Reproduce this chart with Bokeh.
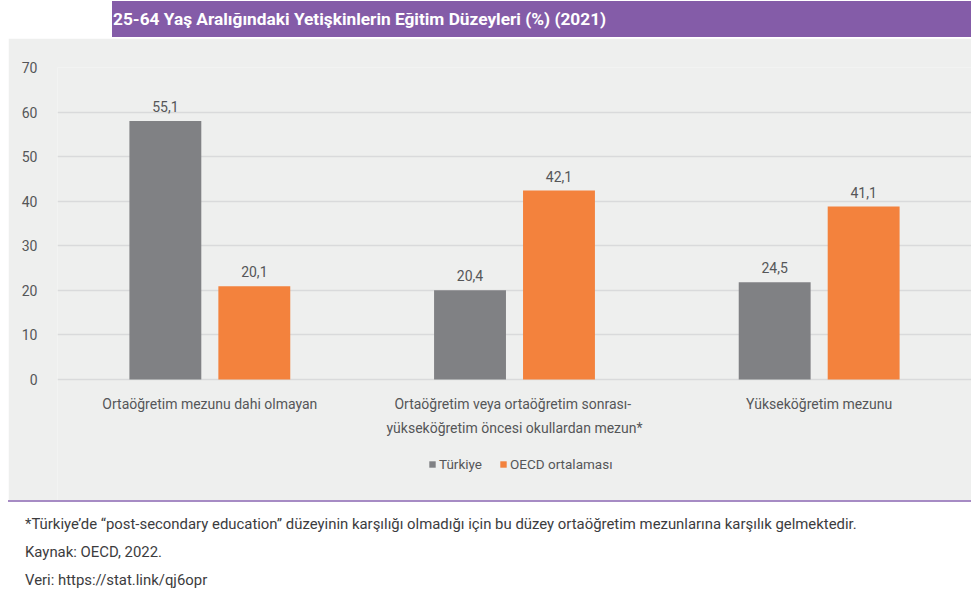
from bokeh.plotting import figure
from bokeh.models import (ColumnDataSource, FactorRange, Range1d, Legend, LegendItem,
                          FixedTicker, Div)
from bokeh.transform import dodge
from bokeh.layouts import column
from bokeh.embed import file_html
from bokeh.resources import INLINE

# ---------------- data ----------------
title_text = "25-64 Yaş Aralığındaki Yetişkinlerin Eğitim Düzeyleri (%) (2021)"
categories = [
    "Ortaöğretim mezunu dahi olmayan",
    "Ortaöğretim veya  ortaöğretim sonrası-\nyükseköğretim öncesi okullardan mezun*",
    "Yükseköğretim mezunu",
]
series_names = ["Türkiye", "OECD ortalaması"]
turkiye_bars = [58.0, 20.0, 21.8]      # bar heights as drawn
oecd_bars = [20.9, 42.4, 38.8]
turkiye_labels = ["55,1", "20,4", "24,5"]  # printed value labels
oecd_labels = ["20,1", "42,1", "41,1"]
y_ticks = [0, 10, 20, 30, 40, 50, 60, 70]
footnotes = [
    "*Türkiye’de “post-secondary education” düzeyinin karşılığı olmadığı için bu düzey ortaöğretim mezunlarına karşılık gelmektedir.",
    "Kaynak: OECD, 2022.",
    "Veri: https://stat.link/qj6opr",
]

# ---------------- styles ----------------
FONT = "Roboto"
PURPLE = "#845ca8"
LILAC = "#a68bc4"
PANEL = "#eeefee"
GRID = "#d9dadb"
GRAY_BAR = "#808184"
ORANGE = "#f3823d"
TEXT = "#555658"

# vertical layout of the chart panel (px inside the 462 px tall figure)
FIG_H = 462
FRAME_TOP = 29            # where the 70 gridline sits
ZERO_PX = 341             # where the 0 baseline sits
Y_MAX = 70
PX_PER_UNIT = (ZERO_PX - FRAME_TOP) / Y_MAX
Y_MIN = -(FIG_H - ZERO_PX) / PX_PER_UNIT   # extra room below 0 for labels and legend

# ---------------- title band ----------------
title_div = Div(
    text=(f'<div style="margin-left:112px;margin-top:1px;width:859px;height:36px;'
          f'background:{PURPLE};color:#ffffff;font-family:{FONT};font-weight:bold;'
          f'font-size:17.3px;line-height:36px;padding-left:1px;box-sizing:border-box;'
          f'white-space:nowrap;">{title_text}</div>'),
    width=971, height=38, margin=0)

# ---------------- main chart ----------------
src = ColumnDataSource(dict(cat=categories, tr=turkiye_bars, oe=oecd_bars,
                            trl=turkiye_labels, oel=oecd_labels))

p = figure(width=963, height=FIG_H, output_backend="svg", toolbar_location=None,
           x_range=FactorRange(*categories), y_range=Range1d(Y_MIN, Y_MAX),
           min_border_left=49, min_border_right=0, min_border_top=FRAME_TOP,
           min_border_bottom=0, margin=(0, 0, 0, 8))
p.background_fill_color = PANEL
p.border_fill_color = PANEL
p.outline_line_color = None

off = 0.146
bw = 0.236
r1 = p.vbar(x=dodge("cat", -off, range=p.x_range), top="tr", width=bw, source=src,
            fill_color=GRAY_BAR, line_color=None)
r2 = p.vbar(x=dodge("cat", off, range=p.x_range), top="oe", width=bw, source=src,
            fill_color=ORANGE, line_color=None)

p.text(x=dodge("cat", -off, range=p.x_range), y="tr", text="trl", source=src,
       text_align="center", text_baseline="bottom", y_offset=-9,
       text_font={"value": FONT}, text_font_size="14px", text_color=TEXT)
p.text(x=dodge("cat", off, range=p.x_range), y="oe", text="oel", source=src,
       text_align="center", text_baseline="bottom", y_offset=-9,
       text_font={"value": FONT}, text_font_size="14px", text_color=TEXT)

# category labels under the baseline
p.text(x="cat", y=0, text="cat", source=src, text_align="center", text_baseline="top",
       y_offset=16, text_line_height=1.5,
       text_font={"value": FONT}, text_font_size="14px", text_color=TEXT)

p.xaxis.visible = False
p.xgrid.grid_line_color = None
p.ygrid.grid_line_color = GRID
p.ygrid.grid_line_width = 1.5
p.yaxis.ticker = FixedTicker(ticks=y_ticks)
p.yaxis.axis_line_color = None
p.yaxis.major_tick_line_color = None
p.yaxis.minor_tick_line_color = None
p.yaxis.major_label_text_font = FONT
p.yaxis.major_label_text_color = TEXT
p.yaxis.major_label_text_font_size = "14px"
p.yaxis.major_label_standoff = 14

legend = Legend(items=[LegendItem(label=series_names[0], renderers=[r1]),
                       LegendItem(label=series_names[1], renderers=[r2])],
                orientation="horizontal", location=(371, 26),
                glyph_width=8, glyph_height=8, label_height=20, label_standoff=3, spacing=17,
                label_text_font=FONT, label_text_font_size="13.5px", label_text_color=TEXT,
                background_fill_alpha=0, border_line_color=None, margin=0, padding=0)
p.add_layout(legend)

# ---------------- footer ----------------
notes_html = "<br>".join(footnotes)
footer_div = Div(
    text=(f'<div style="margin-left:8px;width:963px;border-top:2px solid {LILAC};height:100px;'
          f'box-sizing:border-box;padding-top:8px;padding-left:17px;font-family:{FONT};'
          f'font-size:14.9px;line-height:28px;color:#3c3c3e;white-space:nowrap;">'
          f'{notes_html}</div>'),
    width=971, height=102, margin=0)

layout = column(title_div, p, footer_div, spacing=0)
open("out.html", "w").write(file_html(layout, INLINE))
